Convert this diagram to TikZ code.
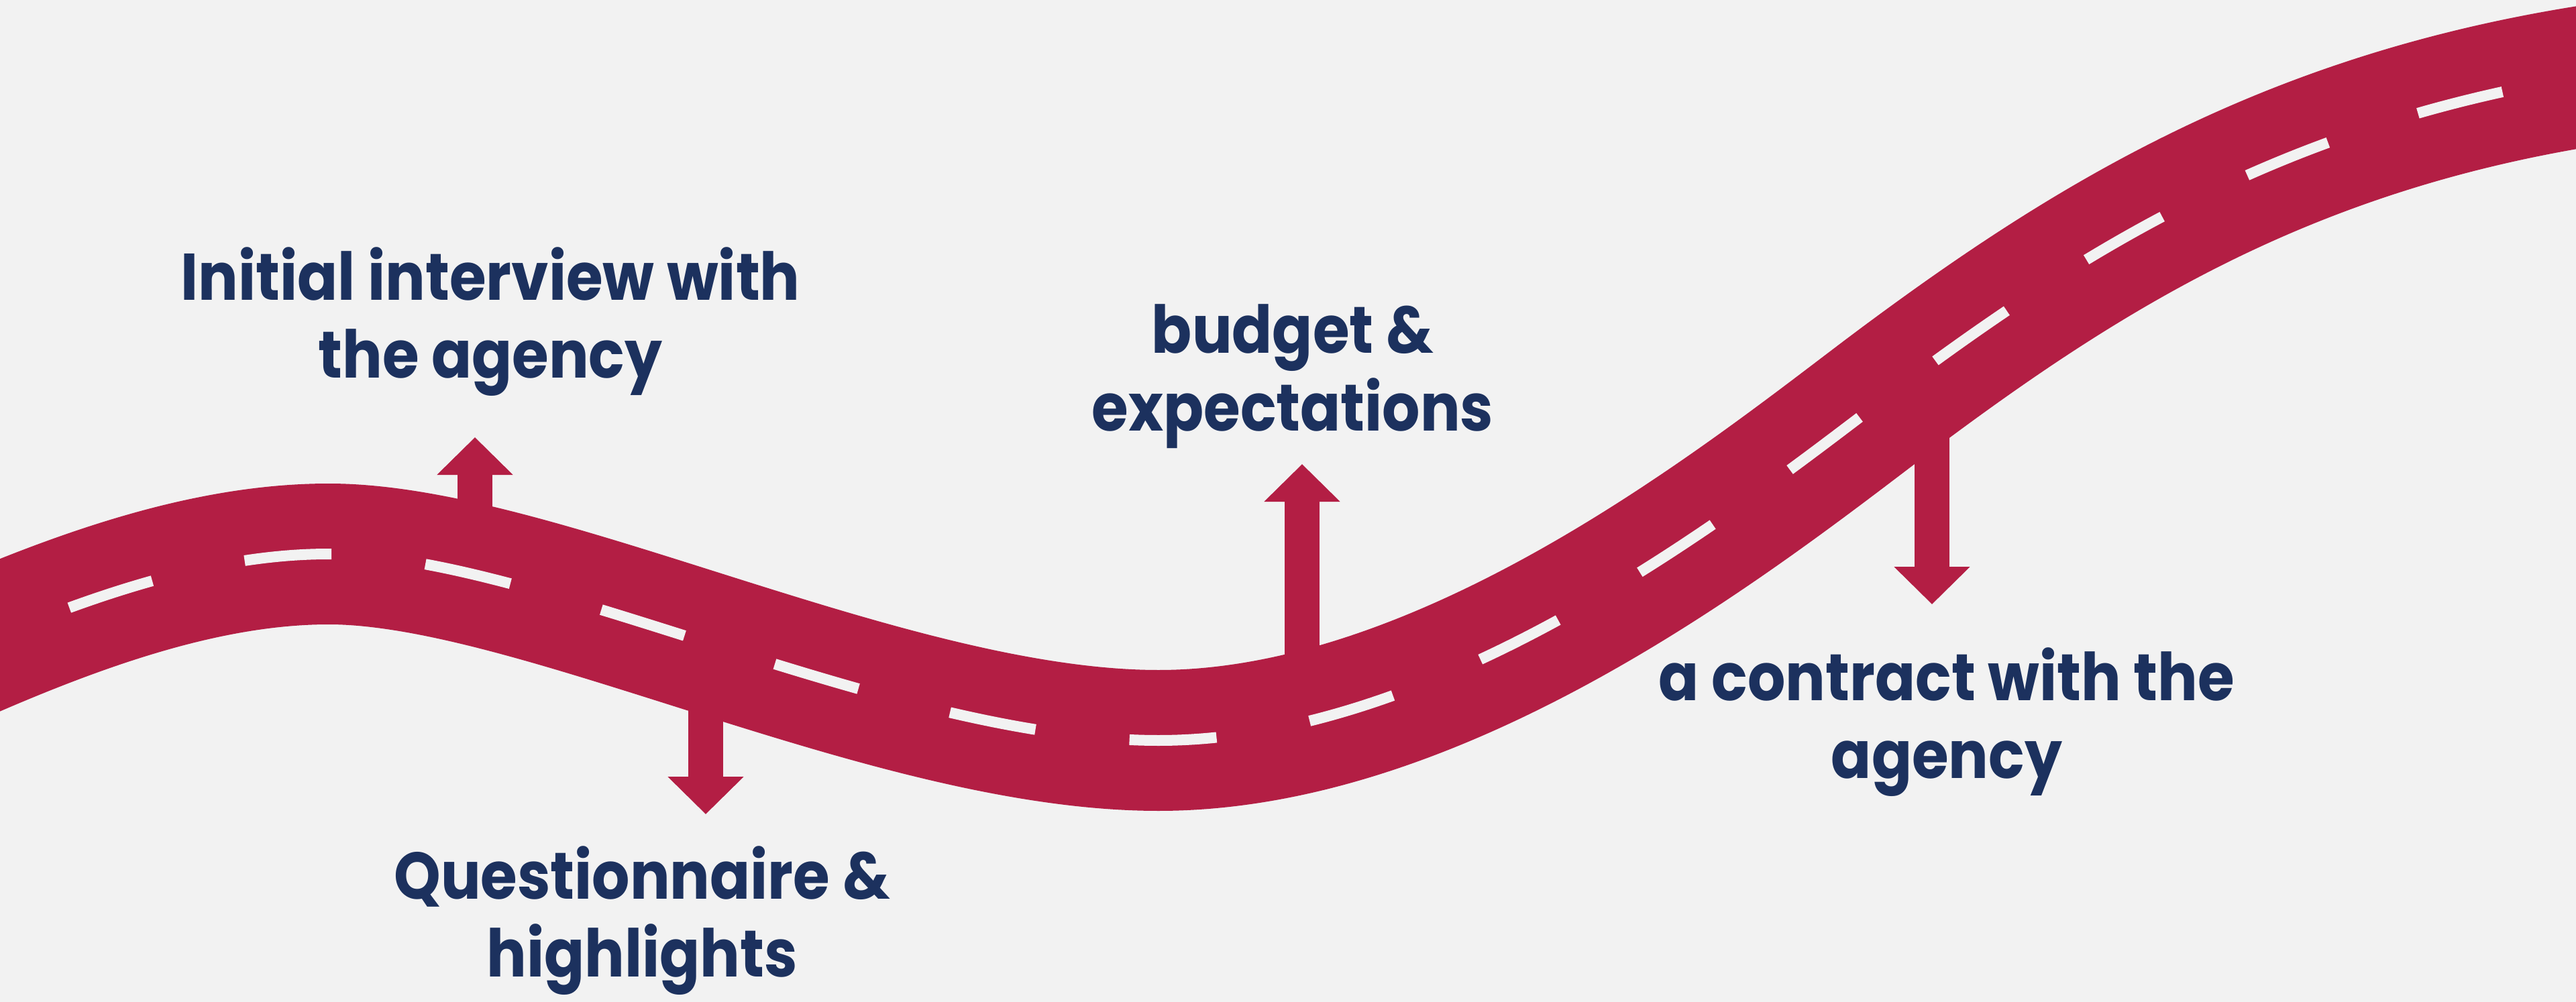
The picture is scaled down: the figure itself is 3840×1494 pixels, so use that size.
\documentclass[tikz,border=0pt]{standalone}
\usepackage{fontspec}
\usepackage{tikz}
\usetikzlibrary{arrows.meta}
\newfontfamily\roadfont{Poppins}[FakeStretch=0.9]
\definecolor{roadred}{RGB}{179,30,68}
\definecolor{labelblue}{RGB}{28,49,94}
\definecolor{paper}{RGB}{242,242,242}

\begin{document}
\begin{tikzpicture}[x=0.1mm,y=-0.1mm,
	signpost/.style={draw=roadred,line width=5.2mm,-{Triangle[width=11mm,length=5.6mm]}},
	roadtext/.style={text=labelblue,align=center,anchor=base,inner sep=0pt,
		font=\roadfont\bfseries\fontsize{28}{33}\selectfont}]
	
	\fill[paper] (0,0) rectangle (3840,1494);
	\useasboundingbox (0,0) rectangle (3840,1494);
	\clip (0,0) rectangle (3840,1494);
	
	%signposts, under the road
	\coordinate (s1) at (708,800);   \coordinate (e1) at (708,652);
	\coordinate (s2) at (1052,1000); \coordinate (e2) at (1052,1214);
	\coordinate (s3) at (1941,1030); \coordinate (e3) at (1941,692);
	\coordinate (s4) at (2880,580);  \coordinate (e4) at (2880,901);
	\foreach \i in {1,2,3,4} {
		\draw[signpost] (s\i) -- (e\i);
	}
	
	%road
	\path[save path=\roadline] (-100,990) .. controls (100,900) and (300,826) .. (490,826)
		.. controls (800,826) and (1327,1104) .. (1727,1104)
		.. controls (2177,1104) and (2636,723) .. (2836,574)
		.. controls (3136,351) and (3450,160) .. (3950,100);
	\draw[roadred,line width=21mm,use path=\roadline];
	\draw[paper,line width=1.6mm,dash pattern=on 13mm off 14.1mm,dash phase=5.1mm,use path=\roadline];
	
	%labels (base = last line)
	\node[roadtext] (interview) at (731,563) {Initial interview with\\the agency};
	\node[roadtext] (questionnaire) at (957,1456) {Questionnaire \&\\highlights};
	\node[roadtext] (budget) at (1927,642) {budget \&\\expectations};
	\node[roadtext] (contract) at (2902,1160) {a contract with the\\agency};
\end{tikzpicture}
\end{document}
